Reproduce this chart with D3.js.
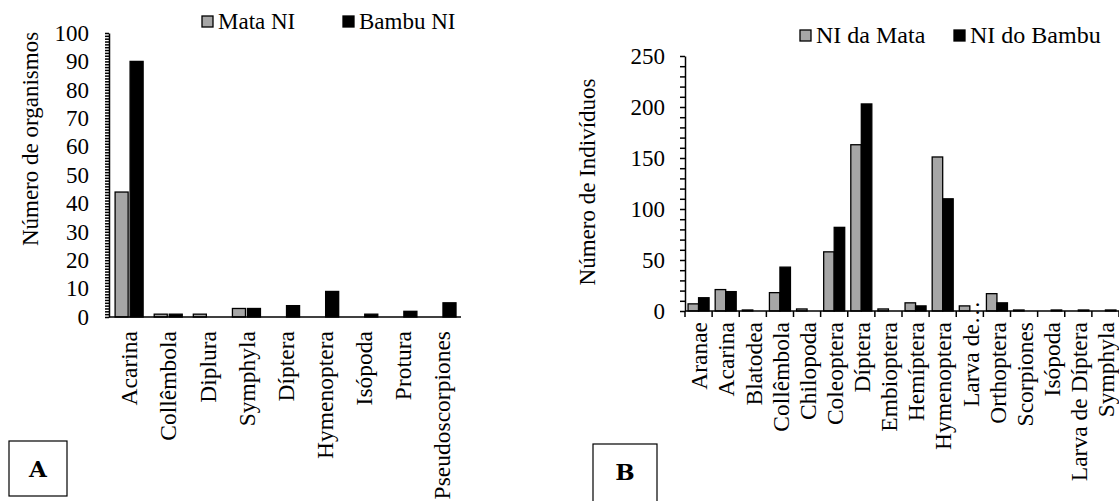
<!DOCTYPE html>
<html>
<head>
<meta charset="utf-8">
<script src="https://cdn.jsdelivr.net/npm/d3@7"></script>
<style>
  body { margin: 0; background: #fff; }
  svg text { font-family: "Liberation Serif", "Times New Roman", Tinos, "DejaVu Serif", serif; fill: #000; }
  .domain, .tick line { stroke: #000; stroke-width: 1.5; }
</style>
</head>
<body>
<script>
// --- chart A data
var catsA = ["Acarina", "Collêmbola", "Diplura", "Symphyla", "Díptera", "Hymenoptera", "Isópoda", "Protura", "Pseudoscorpiones"];
var mataA = [44, 1, 1, 3, 0, 0, 0, 0, 0];
var bambuA = [90, 1, 0, 3, 4, 9, 1, 2, 5];
var legendA = ["Mata NI", "Bambu NI"];

// --- chart B data
var catsB = ["Aranae", "Acarina", "Blatodea", "Collêmbola", "Chilopoda", "Coleoptera", "Díptera", "Embioptera",
  "Hemíptera", "Hymenoptera", "Larva de…", "Orthoptera", "Scorpiones", "Isópoda", "Larva de Díptera", "Symphyla"];
var mataB = [7, 21, 1, 18, 2, 58, 163, 2, 8, 151, 5, 17, 1, 0, 0, 0];
var bambuB = [13, 19, 0, 43, 0, 82, 203, 0, 5, 110, 0, 8, 0, 1, 1, 1];
var legendB = ["NI da Mata", "NI do Bambu"];

var colors = ["#a6a6a6", "#000000"];

var svg = d3.select("body").append("svg")
    .attr("width", 1119)
    .attr("height", 501);

function drawChart(o) {
  var g = svg.append("g");
  var x = d3.scaleBand().domain(o.cats).range([o.x0, o.x1]);
  var y = d3.scaleLinear().domain([0, o.max]).range([o.y0, o.y1]);
  var x1 = d3.scaleBand().domain([0, 1]).range([0, x.bandwidth()])
      .paddingInner(o.pi).paddingOuter(o.po).align(o.align);

  var rows = o.cats.map(function(c, i) { return {cat: c, vals: [o.s1[i], o.s2[i]]}; });

  // bars
  var grp = g.selectAll(".cat").data(rows).enter().append("g")
      .attr("transform", function(d) { return "translate(" + x(d.cat) + ",0)"; });
  grp.selectAll("rect")
    .data(function(d) { return d.vals.map(function(v, k) { return {k: k, v: v}; }); })
    .enter().filter(function(d) { return d.v > 0; }).append("rect")
      .attr("x", function(d) { return x1(d.k); })
      .attr("width", x1.bandwidth())
      .attr("y", function(d) { return y(d.v); })
      .attr("height", function(d) { return y(0) - y(d.v); })
      .attr("fill", function(d) { return colors[d.k]; })
      .attr("stroke", "#000")
      .attr("stroke-width", 1.3);

  // y axis
  var ya = d3.axisLeft(y)
      .tickValues(d3.range(0, o.max + 1, o.minor))
      .tickSize(o.tick).tickSizeOuter(0).tickPadding(o.pad)
      .tickFormat(function(d) { return d % o.major === 0 ? d : ""; });
  var yg = g.append("g").attr("transform", "translate(" + o.x0 + ",0)").call(ya);
  yg.attr("font-family", null);
  yg.selectAll("text").style("font-size", "23px");

  // x axis line
  g.append("line")
      .attr("x1", o.x0).attr("x2", o.x1)
      .attr("y1", y(0)).attr("y2", y(0))
      .attr("stroke", "#000").attr("stroke-width", 1.5);

  if (o.xticks) {
    var edges = o.cats.map(function(c) { return x(c); }).concat([o.x1]);
    g.selectAll(".xt").data(edges).enter().append("line")
        .attr("x1", function(d) { return d; }).attr("x2", function(d) { return d; })
        .attr("y1", y(0)).attr("y2", y(0) + 6)
        .attr("stroke", "#000").attr("stroke-width", 1.5);
  }

  // category labels
  g.selectAll(".lab").data(o.cats).enter().append("text")
      .attr("transform", function(d) {
        var ty = d === "Larva de…" ? o.labBottom : o.labTop;
        return "translate(" + (x(d) + x.bandwidth() / 2 + 1) + "," + ty + ") rotate(-90)";
      })
      .attr("text-anchor", function(d) { return d === "Larva de…" ? "start" : "end"; })
      .attr("dy", "0.33em")
      .style("font-size", "23.5px")
      .text(function(d) { return d; });

  // y title
  g.append("text")
      .attr("transform", "translate(" + o.titleX + "," + o.titleY + ") rotate(-90)")
      .attr("text-anchor", "middle")
      .attr("dy", "0.33em")
      .style("font-size", "23px")
      .text(o.title);

  // legend
  o.legend.forEach(function(name, k) {
    g.append("rect")
        .attr("x", o.legX[k]).attr("y", o.legY - 13)
        .attr("width", 11).attr("height", 11)
        .attr("fill", colors[k]).attr("stroke", "#000").attr("stroke-width", 1.3);
    g.append("text")
        .attr("x", o.legX[k] + 16).attr("y", o.legY)
        .style("font-size", o.legFont)
        .text(name);
  });

  // panel letter box
  g.append("rect")
      .attr("x", o.box[0]).attr("y", o.box[1])
      .attr("width", o.box[2]).attr("height", o.box[3])
      .attr("fill", "none").attr("stroke", "#000").attr("stroke-width", 1.2);
  g.append("text")
      .attr("x", o.box[0] + o.box[2] / 2).attr("y", o.letterY)
      .attr("text-anchor", "middle")
      .style("font-family", "'DejaVu Serif', serif")
      .style("font-weight", "bold")
      .style("font-size", "23px")
      .text(o.letter);
}

drawChart({
  cats: catsA, s1: mataA, s2: bambuA, legend: legendA,
  x0: 109, x1: 461, y0: 317, y1: 33, max: 100,
  pi: 0.13, po: 0.37, align: 0.55,
  minor: 1, major: 10, tick: 4, pad: 16, xticks: false,
  labTop: 331, labBottom: 420,
  title: "Número de organismos", titleX: 30, titleY: 139,
  legX: [202, 343], legY: 29, legFont: "23px",
  box: [9, 441, 58, 55], letterY: 477, letter: "A"
});

drawChart({
  cats: catsB, s1: mataB, s2: bambuB, legend: legendB,
  x0: 685, x1: 1119, y0: 311, y1: 56, max: 250,
  pi: 0, po: 0.29, align: 0.5,
  minor: 10, major: 50, tick: 5, pad: 15, xticks: true,
  labTop: 322, labBottom: 407,
  title: "Número de Indivíduos", titleX: 587, titleY: 182,
  legX: [800, 954], legY: 43, legFont: "24px",
  box: [593, 444, 64, 70], letterY: 480, letter: "B"
});
</script>
</body>
</html>
